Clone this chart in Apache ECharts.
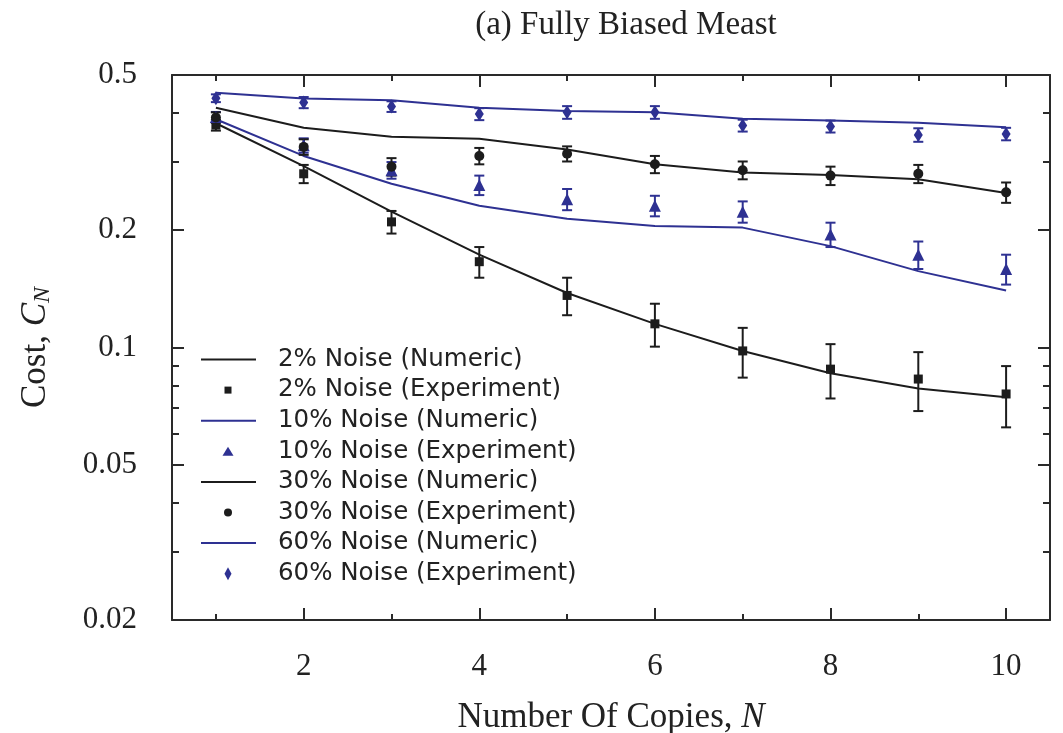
<!DOCTYPE html>
<html>
<head>
<meta charset="utf-8">
<script src="https://cdn.jsdelivr.net/npm/echarts@6/dist/echarts.min.js"></script>
<style>html,body{margin:0;padding:0;background:#fff}#c{width:1063px;height:733px}</style>
</head>
<body>
<div id="c"></div>
<script>
// ---- data ----
const copies = [1, 2, 3, 4, 5, 6, 7, 8, 9, 10];
const xTickLabels = [2, 4, 6, 8, 10];
const yTickLabels = [0.02, 0.05, 0.1, 0.2, 0.5];
const yMinorTicks = [0.03, 0.04, 0.06, 0.07, 0.08, 0.09, 0.3, 0.4];

const num2  = [0.376, 0.292, 0.223, 0.173, 0.138, 0.115, 0.098, 0.0859, 0.0785, 0.0745];
const exp2  = [0.372, 0.279, 0.210, 0.166, 0.136, 0.115, 0.098, 0.088, 0.083, 0.076];
const err2  = [0.012, 0.015, 0.014, 0.015, 0.015, 0.0145, 0.0143, 0.014, 0.0143, 0.0136];

const num10 = [0.385, 0.310, 0.263, 0.231, 0.214, 0.205, 0.203, 0.182, 0.157, 0.140];
const exp10 = [0.390, 0.330, 0.285, 0.261, 0.240, 0.231, 0.223, 0.195, 0.173, 0.159];
const err10 = [0.012, 0.014, 0.014, 0.015, 0.015, 0.014, 0.014, 0.014, 0.014, 0.014];

const num30 = [0.412, 0.366, 0.347, 0.343, 0.322, 0.295, 0.281, 0.277, 0.270, 0.249];
const exp30 = [0.389, 0.327, 0.291, 0.310, 0.314, 0.295, 0.285, 0.276, 0.279, 0.250];
const err30 = [0.012, 0.015, 0.015, 0.015, 0.014, 0.015, 0.015, 0.015, 0.015, 0.015];

const num60 = [0.450, 0.435, 0.431, 0.412, 0.404, 0.401, 0.386, 0.382, 0.377, 0.367];
const exp60 = [0.436, 0.425, 0.415, 0.397, 0.401, 0.401, 0.371, 0.369, 0.351, 0.353];
const err60 = [0.010, 0.014, 0.013, 0.014, 0.015, 0.015, 0.013, 0.013, 0.014, 0.013];

const seriesNames = [
  '2% Noise (Numeric)', '2% Noise (Experiment)',
  '10% Noise (Numeric)', '10% Noise (Experiment)',
  '30% Noise (Numeric)', '30% Noise (Experiment)',
  '60% Noise (Numeric)', '60% Noise (Experiment)'
];

// ---- styles ----
const BLACK = '#1c1c1c';
const BLUE = '#2e3192';
const AXIS = '#2a2a2a';
const SERIF = "'Liberation Serif', 'DejaVu Serif', serif";
const SANS = "'DejaVu Sans', sans-serif";

const groups = [
  {num: num2,  exp: exp2,  err: err2,  color: BLACK, symbol: 'rect',     size: 9,        legIcon: 'rect',     legW: 7,  legH: 7},
  {num: num10, exp: exp10, err: err10, color: BLUE,  symbol: 'triangle', size: [12, 12], legIcon: 'triangle', legW: 11, legH: 9},
  {num: num30, exp: exp30, err: err30, color: BLACK, symbol: 'circle',   size: 10,       legIcon: 'circle',   legW: 8,  legH: 8},
  {num: num60, exp: exp60, err: err60, color: BLUE,  symbol: 'diamond',  size: [9, 14],  legIcon: 'diamond',  legW: 7,  legH: 13}
];

const series = [];
groups.forEach((g, i) => {
  series.push({
    name: seriesNames[2 * i], type: 'line', xAxisIndex: 0, yAxisIndex: 0,
    data: copies.map((n, k) => [n, g.num[k]]),
    showSymbol: false, symbol: 'none',
    lineStyle: {color: g.color, width: 2}, itemStyle: {color: g.color},
    z: 2, animation: false
  });
  series.push({
    name: 'err' + i, type: 'custom', xAxisIndex: 0, yAxisIndex: 0,
    data: copies.map((n, k) => [n, g.exp[k], g.err[k]]),
    encode: {x: 0, y: 1},
    renderItem: (params, api) => {
      const x = api.value(0), v = api.value(1), e = api.value(2);
      const top = api.coord([x, v + e]);
      const bot = api.coord([x, v - e]);
      const w = 5;
      const st = {stroke: g.color, lineWidth: 2};
      return {type: 'group', children: [
        {type: 'line', shape: {x1: top[0], y1: top[1], x2: bot[0], y2: bot[1]}, style: st},
        {type: 'line', shape: {x1: top[0] - w, y1: top[1], x2: top[0] + w, y2: top[1]}, style: st},
        {type: 'line', shape: {x1: bot[0] - w, y1: bot[1], x2: bot[0] + w, y2: bot[1]}, style: st}
      ]};
    },
    z: 3, animation: false, silent: true
  });
  series.push({
    name: seriesNames[2 * i + 1], type: 'scatter', xAxisIndex: 0, yAxisIndex: 0,
    data: copies.map((n, k) => [n, g.exp[k]]),
    symbol: g.symbol, symbolSize: g.size,
    itemStyle: {color: g.color, opacity: 1},
    z: 4, animation: false
  });
});

// ---- legends: one row each ----
const rowY0 = 359, rowStep = 30.6;
const textX = 278;
const legends = [];
function legText(gap) {
  return {fontFamily: SANS, fontSize: 24.5, lineHeight: 24, color: '#222', padding: [0, 0, 0, gap - 5]};
}
groups.forEach((g, i) => {
  const yl = rowY0 + (2 * i) * rowStep;
  legends.push({
    left: 201, top: yl - 12, padding: 0, itemWidth: 55, itemHeight: 2,
    selectedMode: false,
    data: [{name: seriesNames[2 * i], icon: 'rect'}],
    textStyle: legText(textX - 256)
  });
  const ym = rowY0 + (2 * i + 1) * rowStep;
  legends.push({
    left: 228 - g.legW / 2, top: ym - 12, padding: 0, itemWidth: g.legW, itemHeight: g.legH,
    selectedMode: false,
    data: [{name: seriesNames[2 * i + 1], icon: g.legIcon}],
    textStyle: legText(textX - (228 + g.legW / 2))
  });
});

const axisLine = {show: true, onZero: false, lineStyle: {color: AXIS, width: 2}};
const noLine = {show: false, onZero: false};
const xMajor = xTickLabels;
const xMinor = copies.filter(n => xTickLabels.indexOf(n) < 0);

function xAx(pos, vals, len, line, labels) {
  return {
    type: 'value', position: pos, min: 0.5, max: 10.5,
    axisLine: line ? axisLine : noLine,
    splitLine: {show: false},
    axisTick: {show: true, inside: true, length: len, customValues: vals, lineStyle: {color: AXIS, width: 2}},
    axisLabel: labels ? {show: true, customValues: xTickLabels, margin: 31, fontFamily: SERIF, fontSize: 31, color: '#222'} : {show: false}
  };
}
function yAx(pos, vals, len, line, labels) {
  return {
    type: 'log', logBase: 10, position: pos, min: 0.02, max: 0.5,
    axisLine: line ? axisLine : noLine,
    splitLine: {show: false}, minorTick: {show: false},
    axisTick: {show: true, inside: true, length: len, customValues: vals, lineStyle: {color: AXIS, width: 2}},
    axisLabel: labels ? {show: true, customValues: yTickLabels, margin: 35, fontFamily: SERIF, fontSize: 31, color: '#222',
      formatter: v => String(+v.toPrecision(3))} : {show: false}
  };
}

const xAxes = [
  xAx('bottom', xMajor, 12, true, true),
  xAx('bottom', xMinor, 6, false, false),
  xAx('top', xMajor, 12, true, false),
  xAx('top', xMinor, 6, false, false)
];
xAxes[0].name = 'Number Of Copies, {it|N}';
xAxes[0].nameLocation = 'middle';
xAxes[0].nameGap = 80;
xAxes[0].nameTextStyle = {fontFamily: SERIF, fontSize: 35, color: '#222',
  rich: {it: {fontFamily: SERIF, fontSize: 35, fontStyle: 'italic', color: '#222'}}};

const yAxes = [
  yAx('left', yTickLabels, 12, true, true),
  yAx('left', yMinorTicks, 7, false, false),
  yAx('right', yTickLabels, 12, true, false),
  yAx('right', yMinorTicks, 7, false, false)
];
yAxes[0].name = 'Cost, {it|C}{sub|N}';
yAxes[0].nameLocation = 'middle';
yAxes[0].nameGap = 117;
yAxes[0].nameTextStyle = {fontFamily: SERIF, fontSize: 35, color: '#222',
  rich: {
    it: {fontFamily: SERIF, fontSize: 35, fontStyle: 'italic', color: '#222'},
    sub: {fontFamily: SERIF, fontSize: 24, fontStyle: 'italic', color: '#222', verticalAlign: 'bottom', padding: [14, 0, 0, 0]}
  }};

const option = {
  animation: false,
  backgroundColor: '#ffffff',
  title: {
    text: '(a) Fully Biased Meast', left: 621, textAlign: 'center', top: 4,
    textStyle: {fontFamily: SERIF, fontSize: 33, fontWeight: 'normal', color: '#222'}
  },
  grid: {left: 172, right: 13, top: 75, bottom: 113, containLabel: false, outerBoundsMode: 'none'},
  legend: legends,
  xAxis: xAxes,
  yAxis: yAxes,
  series: series
};

const chart = echarts.init(document.getElementById('c'), null, {renderer: 'canvas'});
chart.setOption(option);
</script>
</body>
</html>
